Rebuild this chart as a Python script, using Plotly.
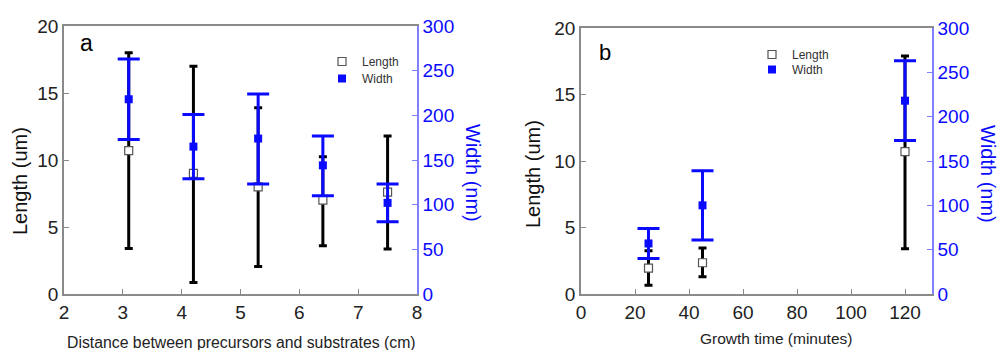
import plotly.graph_objects as go

# ---- Panel a: distance between precursors and substrates ----
dist_cm = [3.1, 4.2, 5.3, 6.4, 7.5]
len_a_mean = [10.7, 9.0, 8.0, 7.0, 7.6]
len_a_high = [18.0, 17.0, 13.9, 10.25, 11.8]
len_a_low = [3.4, 0.85, 2.05, 3.6, 3.35]
wid_a_mean = [218, 165, 174, 144, 102]
wid_a_high = [263, 201, 224, 177, 123]
wid_a_low = [173, 129, 123, 110, 81]

# ---- Panel b: growth time ----
time_min = [25, 45, 120]
len_b_mean = [1.95, 2.35, 10.7]
len_b_high = [3.25, 3.45, 17.9]
len_b_low = [0.65, 1.3, 3.4]
wid_b_mean = [57, 100, 218]
wid_b_high = [74, 139, 263]
wid_b_low = [40, 61, 173]

ticks_a_x = [2, 3, 4, 5, 6, 7, 8]
ticks_b_x = [0, 20, 40, 60, 80, 100, 120]
ticks_len = [0, 5, 10, 15, 20]
ticks_wid = [0, 50, 100, 150, 200, 250, 300]

W, H = 998, 350
FONT = "Liberation Sans, Arial, sans-serif"
BLUE = "#0a0aff"
AXIS_BLUE = "#8080ff"
GRAY = "#8a8a8a"


def px_x(p):
    return p / W


def px_y(p):
    return 1 - p / H


def up(hi, mean):
    return [h - m for h, m in zip(hi, mean)]


def down(lo, mean):
    return [m - l for l, m in zip(lo, mean)]


def length_trace(x, mean, hi, lo, xa, ya, legend):
    return go.Scatter(
        x=x, y=mean, mode="markers", name="Length", xaxis=xa, yaxis=ya,
        legend=legend,
        marker=dict(symbol="square", size=8, color="white",
                    line=dict(color="#555555", width=1.2)),
        error_y=dict(type="data", symmetric=False, array=up(hi, mean),
                     arrayminus=down(lo, mean), color="black",
                     thickness=3, width=4),
    )


def width_trace(x, mean, hi, lo, xa, ya, legend):
    return go.Scatter(
        x=x, y=mean, mode="markers", name="Width", xaxis=xa, yaxis=ya,
        legend=legend,
        marker=dict(symbol="square", size=8, color=BLUE,
                    line=dict(width=0)),
        error_y=dict(type="data", symmetric=False, array=up(hi, mean),
                     arrayminus=down(lo, mean), color=BLUE,
                     thickness=3, width=11),
    )


# each legend entry sits in its own legend box so rows can be spaced freely
fig = go.Figure()
fig.add_trace(length_trace(dist_cm, len_a_mean, len_a_high, len_a_low, "x", "y", "legend"))
fig.add_trace(width_trace(dist_cm, wid_a_mean, wid_a_high, wid_a_low, "x", "y2", "legend2"))
fig.add_trace(length_trace(time_min, len_b_mean, len_b_high, len_b_low, "x2", "y3", "legend3"))
fig.add_trace(width_trace(time_min, wid_b_mean, wid_b_high, wid_b_low, "x2", "y4", "legend4"))

dom_a_x = [px_x(64), px_x(417)]
dom_b_x = [px_x(581), px_x(932)]
dom_a_y = [px_y(294), px_y(26)]
dom_b_y = [px_y(294), px_y(28)]

tick_font = dict(family=FONT, size=19, color="#222222")
blue_font = dict(family=FONT, size=19, color=BLUE)


def x_axis(domain, anchor, rng, vals):
    return dict(domain=domain, anchor=anchor, range=rng, tickvals=vals,
                showline=True, linecolor=GRAY, linewidth=1.5, mirror=True,
                ticks="inside", ticklen=5, tickcolor=GRAY, tickwidth=1.2,
                showgrid=False, zeroline=False, tickfont=tick_font,
                automargin=False)


def left_axis(domain, anchor):
    return dict(domain=domain, anchor=anchor, range=[0, 20], tickvals=ticks_len,
                showline=True, linecolor=GRAY, linewidth=1.5,
                ticks="inside", ticklen=5, tickcolor=GRAY, tickwidth=1.2,
                showgrid=False, zeroline=False, tickfont=tick_font,
                automargin=False)


def right_axis(over, anchor):
    return dict(overlaying=over, anchor=anchor, side="right", range=[0, 300],
                tickvals=ticks_wid, showline=True, linecolor=AXIS_BLUE,
                linewidth=1.5, ticks="inside", ticklen=5, tickcolor=AXIS_BLUE,
                tickwidth=1.2, showgrid=False, zeroline=False, tickfont=blue_font,
                automargin=False)


legend_style = dict(font=dict(family=FONT, size=12, color="#333333"),
                    bgcolor="rgba(0,0,0,0)", borderwidth=0,
                    xanchor="left", yanchor="top", itemwidth=30,
                    tracegroupgap=0)

title_font = dict(family=FONT, size=20, color="#111111")
wtitle_font = dict(family=FONT, size=20, color=BLUE)

annotations = [
    dict(text="a", x=px_x(86), y=px_y(43), font=dict(family=FONT, size=23, color="black")),
    dict(text="b", x=px_x(605), y=px_y(52), font=dict(family=FONT, size=22, color="black")),
    dict(text="Length (um)", x=px_x(20), y=px_y(181), textangle=-90, font=title_font),
    dict(text="Length (um)", x=px_x(533), y=px_y(174), textangle=-90, font=title_font),
    dict(text="Width (nm)", x=px_x(473), y=px_y(173), textangle=90, font=wtitle_font),
    dict(text="Width (nm)", x=px_x(988), y=px_y(174), textangle=90, font=wtitle_font),
    dict(text="Distance between precursors and substrates (cm)", x=px_x(241), y=px_y(342),
         font=dict(family=FONT, size=15.8, color="#222222")),
    dict(text="Growth time (minutes)", x=px_x(776), y=px_y(338),
         font=dict(family=FONT, size=15.5, color="#222222")),
]
for a in annotations:
    a.update(xref="paper", yref="paper", showarrow=False,
             xanchor="center", yanchor="middle")

fig.update_layout(
    width=W, height=H,
    margin=dict(l=0, r=0, t=0, b=0, pad=0, autoexpand=False),
    paper_bgcolor="white", plot_bgcolor="white",
    font=dict(family=FONT),
    xaxis=x_axis(dom_a_x, "y", [2, 8], ticks_a_x),
    yaxis=left_axis(dom_a_y, "x"),
    yaxis2=right_axis("y", "x"),
    xaxis2=x_axis(dom_b_x, "y3", [0, 130], ticks_b_x),
    yaxis3=left_axis(dom_b_y, "x2"),
    yaxis4=right_axis("y3", "x2"),
    legend=dict(legend_style, x=px_x(322), y=px_y(47)),
    legend2=dict(legend_style, x=px_x(322), y=px_y(64)),
    legend3=dict(legend_style, x=px_x(752), y=px_y(40)),
    legend4=dict(legend_style, x=px_x(752), y=px_y(55)),
    annotations=annotations,
    showlegend=True,
)

fig.write_html("out.html")
